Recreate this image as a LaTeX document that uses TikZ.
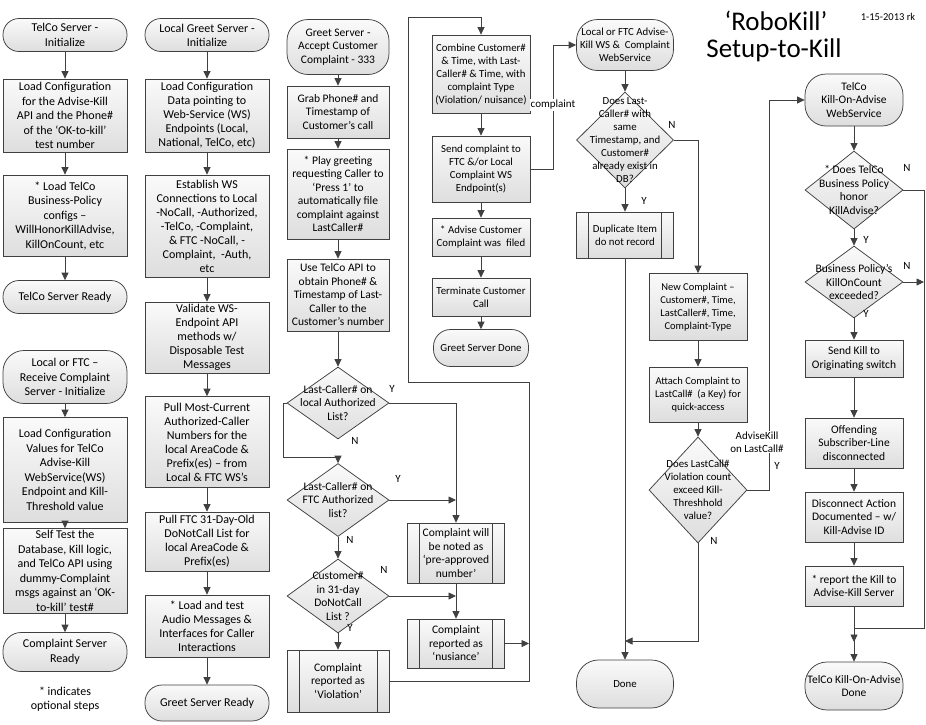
\documentclass[tikz,border=0pt]{standalone}
\usepackage{fontspec}
\setmainfont{Carlito}
\usetikzlibrary{arrows.meta,shapes.geometric}
\definecolor{lc}{HTML}{404040}
\newcommand\fa{\fontsize{12}{14.5}\selectfont}
\newcommand\fb{\fontsize{12}{14}\selectfont}
\newcommand\fc{\fontsize{11.5}{13.5}\selectfont}
\newcommand\fd{\fontsize{10.8}{13}\selectfont}
\newcommand\fe{\fontsize{10.5}{13}\selectfont}
\newcommand\fl{\fontsize{11}{13}\selectfont}
\begin{document}
\begin{tikzpicture}[x=1pt,y=-1pt,
 base/.style={draw=lc, line width=0.75pt, top color=black!2, bottom color=black!13, align=center, inner sep=1pt},
 box/.style 2 args={base, rectangle, minimum width=#1, minimum height=#2},
 term/.style n args={3}{base, rectangle, rounded corners=#3, minimum width=#1, minimum height=#2},
 pp/.style 2 args={box={#1}{#2}, path picture={\draw[lc, line width=0.75pt]
   ([xshift=12pt]path picture bounding box.north west) -- ([xshift=12pt]path picture bounding box.south west)
   ([xshift=-12pt]path picture bounding box.north east) -- ([xshift=-12pt]path picture bounding box.south east);}},
 dia/.style 2 args={base, diamond, minimum width=#1, minimum height=#2, inner sep=0pt},
 dt/.style={align=center, inner sep=0pt},
 lab/.style={font=\fl, inner sep=1pt, align=center},
 ln/.style={draw=lc, line width=0.75pt},
 arr/.style={ln, -{Triangle[length=7.5pt,width=7pt]}},
]
\useasboundingbox (0,0) rectangle (926,724);

% ---------- Column 1
\begin{scope}[every node/.append style={font=\fa}]
\node[term={124pt}{33pt}{16pt}] (t11) at (65,35) {TelCo Server -\\Initialize};
\node[box={124pt}{73pt}] (b12) at (65,115.5) {Load Configuration\\for the Advise-Kill\\API and the Phone\#\\of the ‘OK-to-kill’\\test number};
\node[box={124pt}{81pt}] (b13) at (65,215.5) {* Load TelCo\\Business-Policy\\configs –\\WillHonorKillAdvise,\\KillOnCount, etc};
\node[term={124pt}{33pt}{16pt}] (t14) at (65,297) {TelCo Server Ready};
\node[term={124pt}{53pt}{21pt}] (t15) at (65,377) {Local or FTC –\\Receive Complaint\\Server - Initialize};
\node[box={124pt}{105pt}] (b16) at (65,470) {Load Configuration\\Values for TelCo\\Advise-Kill\\WebService(WS)\\Endpoint and Kill-\\Threshold value};
\node[box={124pt}{85pt}] (b17) at (65,571) {Self Test the\\Database, Kill logic,\\and TelCo API using\\dummy-Complaint\\msgs against an ‘OK-\\to-kill’ test\#};
\node[term={124pt}{39pt}{18pt}] (t18) at (65,652) {Complaint Server\\Ready};
\node[lab, font=\fa] (n19) at (65,699) {* indicates\\optional steps};
\end{scope}
\draw[arr] (t11) -- (b12);
\draw[arr] (b12) -- (b13);
\draw[arr] (b13) -- (t14);
\draw[arr] (t15) -- (b16);
\draw[arr] (b16) -- (b17);
\draw[arr] (b17) -- (t18);

% ---------- Column 2
\begin{scope}[every node/.append style={font=\fb}]
\node[term={124pt}{33pt}{16pt}] (t21) at (207,35) {Local Greet Server -\\Initialize};
\node[box={124pt}{73pt}] (b22) at (207,115.5) {Load Configuration\\Data pointing to\\Web-Service (WS)\\Endpoints (Local,\\National, TelCo, etc)};
\node[box={124pt}{102pt}] (b23) at (207,226) {Establish WS\\Connections to Local\\-NoCall, -Authorized,\\-TelCo, -Complaint,\\\& FTC -NoCall, -\\Complaint,\ \ -Auth,\\etc};
\node[box={124pt}{71pt}] (b24) at (207,337.5) {Validate WS-\\Endpoint API\\methods w/\\Disposable Test\\Messages};
\node[box={124pt}{91pt}] (b25) at (207,442) {Pull Most-Current\\Authorized-Caller\\Numbers for the\\local AreaCode \&\\Prefix(es) – from\\Local \& FTC WS’s};
\node[box={124pt}{59pt}] (b26) at (207,541.5) {Pull FTC 31-Day-Old\\DoNotCall List for\\local AreaCode \&\\Prefix(es)};
\node[box={124pt}{62pt}] (b27) at (207,626) {* Load and test\\Audio Messages \&\\Interfaces for Caller\\Interactions};
\node[term={124pt}{36pt}{17pt}] (t28) at (207,703) {Greet Server Ready};
\end{scope}
\draw[arr] (t21) -- (b22);
\draw[arr] (b22) -- (b23);
\draw[arr] (b23) -- (b24);
\draw[arr] (b24) -- (b25);
\draw[arr] (b25) -- (b26);
\draw[arr] (b26) -- (b27);
\draw[arr] (b27) -- (t28);

% ---------- Column 3
\begin{scope}[every node/.append style={font=\fc}]
\node[term={102pt}{55pt}{21pt}] (t31) at (338,47) {Greet Server -\\Accept Customer\\Complaint - 333};
\node[box={102pt}{52pt}] (b32) at (338,112) {Grab Phone\# and\\Timestamp of\\Customer’s call};
\node[box={102pt}{90pt}] (b33) at (338,194) {* Play greeting\\requesting Caller to\\‘Press 1’ to\\automatically file\\complaint against\\LastCaller\#};
\node[box={102pt}{72pt}] (b34) at (338,295) {Use TelCo API to\\obtain Phone\# \&\\Timestamp of Last-\\Caller to the\\Customer’s number};
\node[dia={102pt}{72pt}] (d35) at (338,403) {};
\node[dt] (d35t) at (d35) {Last-Caller\# on\\local Authorized\\List?};
\node[dia={102pt}{73pt}] (d36) at (338,500) {};
\node[dt] (d36t) at (d36) {Last-Caller\# on\\FTC Authorized\\list?};
\node[dia={102pt}{74pt}] (d37) at (338,596) {};
\node[dt] (d37t) at (d37) {Customer\#\\in 31-day\\DoNotCall\\List ?};
\node[pp={102pt}{62pt}] (p38) at (338,681) {Complaint\\reported as\\‘Violation’};
\node[pp={97pt}{60pt}] (p41) at (456,553) {Complaint will\\be noted as\\‘pre-approved\\number’};
\node[pp={97pt}{49pt}] (p42) at (456,643.5) {Complaint\\reported as\\‘nusiance’};
\end{scope}
\node[lab] (y35) at (392,389) {Y};
\node[lab] (n35) at (355,441) {N};
\node[lab] (y36) at (398,479) {Y};
\node[lab] (n36) at (350,540) {N};
\node[lab] (n37) at (384,570) {N};
\node[lab] (y37) at (350,628) {Y};

\draw[arr] (t31) -- (b32);
\draw[arr] (b32) -- (b33);
\draw[arr] (b33) -- (b34);
\draw[arr] (b34) -- (d35);
\draw[arr] (d35.west) -- (283,403) -- (283,457) -| (d36.north);
\draw[arr] (d36) -- (d37);
\draw[arr] (d37) -- (p38);
\draw[arr] (d35.east) -| (p41.north);
\draw[arr] (d36.east) -- (d36.east -| p41.north);
\draw[arr] (d37.east) -- (d37.east -| p41.south);
\draw[arr] (p41) -- (p42);
\coordinate (lx) at (529,0);
\draw[arr] (p42.east) -- (p42.east -| lx);

% ---------- Column 4
\begin{scope}[every node/.append style={font=\fd}]
\node[box={98pt}{78pt}] (b43) at (481,74) {Combine Customer\#\\\& Time, with Last-\\Caller\# \& Time, with\\complaint Type\\(Violation/ nuisance)};
\node[box={98pt}{66pt}] (b44) at (481,169) {Send complaint to\\FTC \&/or Local\\Complaint WS\\Endpoint(s)};
\node[box={98pt}{38pt}] (b45) at (481,237) {* Advise Customer\\Complaint was\ \ filed};
\node[box={98pt}{38pt}] (b46) at (481,297) {Terminate Customer\\Call};
\node[term={95pt}{37pt}{17pt}] (t47) at (481,348) {Greet Server Done};
\end{scope}
\draw[arr] (p38.east) -| (529,382) -| (408,17) -| (b43.north);
\draw[arr] (b43) -- (b44);
\draw[arr] (b44) -- (b45);
\draw[arr] (b45) -- (b46);
\draw[arr] (b46) -- (t47);

% ---------- Column 5
\begin{scope}[every node/.append style={font=\fd}]
\node[term={97pt}{51pt}{21pt}] (t51) at (625,45) {Local or FTC Advise-\\Kill WS \&\ \ Complaint\\WebService};
\node[dia={97pt}{96pt}] (d52) at (625,140) {};
\node[dt] (d52t) at (d52) {Does Last-\\Caller\# with\\same\\Timestamp, and\\Customer\#\\already exist in\\DB?};
\node[pp={97pt}{46pt}] (p53) at (625,235) {Duplicate Item\\do not record};
\node[term={97pt}{48pt}{22pt}] (t54) at (625,684) {Done};
\end{scope}
\draw[arr] (b44.east) -- (553,169) |- (t51.west);
\node[lab, fill=white] (lbc) at (553,105) {complaint};
\node[lab] (n52) at (672,125) {N};
\node[lab] (y52) at (644,201) {Y};
\draw[arr] (t51) -- (d52);
\draw[arr] (d52) -- (p53);
\draw[arr] (p53) -- (t54);

% ---------- Column 6
\begin{scope}[every node/.append style={font=\fe}]
\node[box={98pt}{67pt}] (b61) at (698,307) {New Complaint –\\Customer\#, Time,\\LastCaller\#, Time,\\Complaint-Type};
\node[box={98pt}{55pt}] (b62) at (698,394.5) {Attach Complaint to\\LastCall\#\ \ (a Key) for\\quick-access};
\node[dia={98pt}{106pt}] (d63) at (698,490) {};
\node[dt, font=\fd] (d63t) at (d63) {Does LastCall\#\\Violation count\\exceed Kill-\\Threshhold\\value?};
\end{scope}
\node[lab] (y63) at (777,466) {Y};
\node[lab] (n63) at (714,541) {N};
\draw[arr] (d52.east) -| (b61.north);
\draw[arr] (b61) -- (b62);
\draw[arr] (b62) -- (d63);
\draw[arr] (d63.south) -- (698,641) -- (625,641);

% ---------- Column 7
\begin{scope}[every node/.append style={font=\fc}]
\node[term={98pt}{52pt}{21pt}] (t71) at (854,100) {TelCo\\Kill-On-Advise\\WebService};
\node[dia={98pt}{78pt}] (d72) at (854,190) {};
\node[dt] (d72t) at (d72) {* Does TelCo\\Business Policy\\honor\\KillAdvise?};
\node[dia={98pt}{72pt}] (d73) at (854,282) {};
\node[dt] (d73t) at (d73) {Business Policy’s\\KillOnCount\\exceeded?};
\node[box={98pt}{37pt}] (b74) at (854,358.5) {Send Kill to\\Originating switch};
\node[box={98pt}{50pt}] (b75) at (854,443) {Offending\\Subscriber-Line\\disconnected};
\node[box={98pt}{50pt}] (b76) at (854,517) {Disconnect Action\\Documented – w/\\Kill-Advise ID};
\node[box={98pt}{40pt}] (b77) at (854,586) {* report the Kill to\\Advise-Kill Server};
\node[term={98pt}{48pt}{22pt}] (t78) at (854,686) {TelCo Kill-On-Advise\\Done};
\end{scope}
\node[lab] (n72) at (907,168) {N};
\node[lab] (y72) at (866,240) {Y};
\node[lab] (n73) at (907,266) {N};
\node[lab] (y73) at (866,314) {Y};

\draw[arr] (d63.east) -- (769,490) |- (t71.west);
\node[lab, fill=white] (lak) at (757,442) {AdviseKill\\on LastCall\#};
\draw[arr] (t71) -- (d72);
\draw[arr] (d72) -- (d73);
\draw[arr] (d73) -- (b74);
\draw[arr] (b74) -- (b75);
\draw[arr] (b75) -- (b76);
\draw[arr] (b76) -- (b77);
\draw[arr] (b77) -- (t78);
\draw[arr] (d72.east) -| (924,628) -| (854,642);
\draw[arr] (d73.east) -- (924,282);

% ---------- Title
\node[font=\fontsize{27}{30}\selectfont, inner sep=0pt] (ti1) at (776,21) {‘RoboKill’};
\node[font=\fontsize{27}{30}\selectfont, inner sep=0pt] (ti2) at (774,50) {Setup-to-Kill};
\node[font=\fontsize{10.5}{12}\selectfont, inner sep=0pt] (ti3) at (888,17) {1-15-2013 rk};
\end{tikzpicture}
\end{document}
